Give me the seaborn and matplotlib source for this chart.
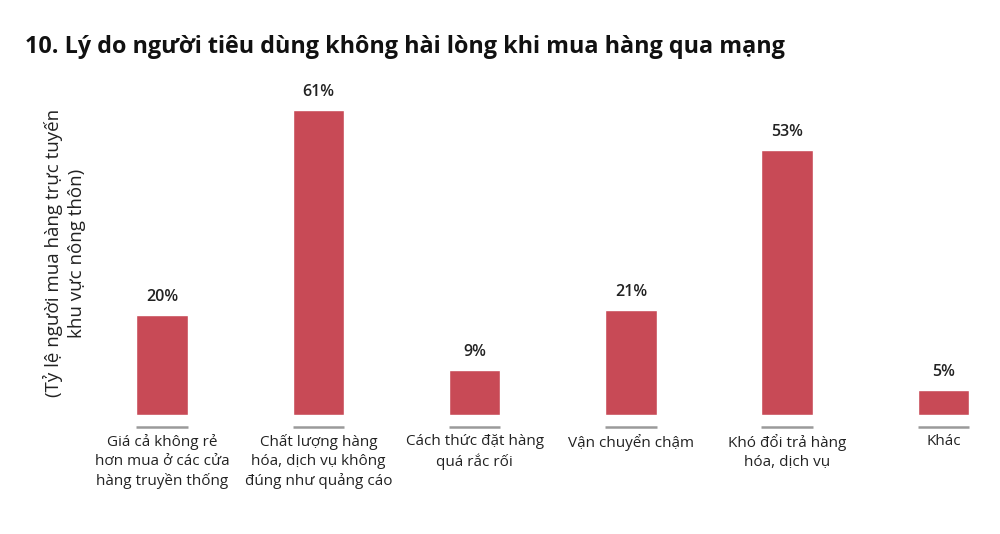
import pandas as pd
import seaborn as sns
import matplotlib.pyplot as plt

# Dữ liệu
categories = [
    "Giá cả không rẻ\nhơn mua ở các cửa\nhàng truyền thống",
    "Chất lượng hàng\nhóa, dịch vụ không\nđúng như quảng cáo",
    "Cách thức đặt hàng\nquá rắc rối",
    "Vận chuyển chậm",
    "Khó đổi trả hàng\nhóa, dịch vụ",
    "Khác",
]
values = [20, 61, 9, 21, 53, 5]
value_labels = ["20%", "61%", "9%", "21%", "53%", "5%"]

df = pd.DataFrame({"Lý do": categories, "Tỷ lệ": values})

sns.set_theme(style="white")
plt.rcParams['font.family'] = ['Open Sans', 'DejaVu Sans']

fig = plt.figure(figsize=(10, 5.34), dpi=100)
ax = fig.add_axes([0.084, 119 / 534, 0.914, 325 / 534])

sns.barplot(data=df, x="Lý do", y="Tỷ lệ", color="#c84a56", width=0.33,
            saturation=1, ax=ax)

# Vạch xám dưới mỗi cột
for i in range(len(categories)):
    ax.hlines(-2.4, i - 0.165, i + 0.165, color="#9a9a9a", lw=1.8, clip_on=False)

# Giá trị trên cột
for i, v in enumerate(values):
    ax.annotate(value_labels[i], (i, v), xytext=(0, 7), textcoords="offset points",
                ha="center", va="bottom", fontsize=11.5, fontweight="semibold",
                color="#222222")

ax.set_xlim(-0.5, 5.35)
ax.set_ylim(0, 65)
ax.set_xlabel("")
ax.set_ylabel("")
ax.set_yticks([])
ax.tick_params(axis="x", length=0, pad=14, labelsize=11, labelcolor="#222222")
for lbl in ax.get_xticklabels():
    lbl.set_linespacing(1.35)
sns.despine(ax=ax, left=True, bottom=True)

fig.text(0.025, 1 - 47 / 534, "10. Lý do người tiêu dùng không hài lòng khi mua hàng qua mạng",
         fontsize=16.8, fontweight="bold", color="#111111", va="center", ha="left")
fig.text(0.0645, 1 - 253 / 534, "(Tỷ lệ người mua hàng trực tuyến\nkhu vực nông thôn)",
         rotation=90, fontsize=13.5, color="#222222", ha="center", va="center",
         linespacing=1.35)

fig.savefig("out.png", dpi=100)
